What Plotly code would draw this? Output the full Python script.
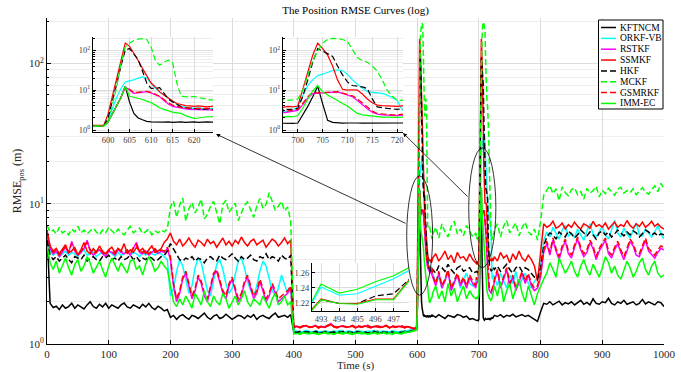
import plotly.graph_objects as go


def vals(s):
    return [float(v) for v in s.split()]


# ---------------- time grid (s) ----------------
TIME = (list(range(0, 600, 5)) + list(range(596, 625)) + list(range(625, 700, 5))
        + list(range(696, 725)) + list(range(725, 1001, 5)))

# ---------------- series values (RMSE_pos, m) ----------------
KFTNCM = vals("""
6.5 1.95 1.82 1.86 1.76 1.9 1.8 1.85 1.95 1.8
1.9 1.84 1.78 1.9 2.0 1.85 1.8 1.92 1.84 1.95
1.8 1.9 1.86 1.8 1.9 1.96 1.84 1.8 1.9 1.85
1.8 1.92 1.84 1.95 1.82 1.76 1.86 1.8 1.72 1.76
1.55 1.6 1.5 1.58 1.62 1.55 1.5 1.6 1.57 1.52
1.6 1.66 1.55 1.5 1.58 1.62 1.52 1.55 1.63 1.57
1.5 1.55 1.6 1.58 1.52 1.6 1.55 1.62 1.5 1.57
1.6 1.55 1.52 1.6 1.66 1.55 1.58 1.6 1.55 1.62
1.21 1.22 1.2 1.22 1.23 1.21 1.22 1.2 1.22 1.21
1.23 1.22 1.21 1.2 1.22 1.23 1.21 1.22 1.2 1.21
1.22 1.23 1.21 1.22 1.2 1.22 1.21 1.23 1.22 1.21
1.2 1.22 1.23 1.21 1.22 1.21 1.23 1.22 1.24 1.25
1.25 1.26 1.26 1.27 1.6 2.5 4.0 6.5 12.5 5.0 2.6 2.0 1.8 1.65 1.6 1.58 1.6 1.57 1.6 1.55 1.58 1.6 1.55 1.57 1.6 1.55 1.58 1.6 1.57
1.6 1.55 1.62 1.57 1.52 1.6 1.58 1.55 1.62 1.6 1.55 1.58 1.5 1.52 1.48
1.47 1.47 1.48 1.47 1.5 2.4 3.9 6.8 12.5 4.5 1.75 1.55 1.5 1.48 1.5 1.52 1.5 1.49 1.5 1.52 1.5 1.5 1.53 1.5 1.52 1.55 1.52 1.56 1.58
1.6 1.57 1.62 1.55 1.6 1.58 1.63 1.56 1.6 1.62 1.57 1.6 1.55 1.5 1.45
1.7 1.95 1.92 2.0 1.9 1.95 2.02 1.9 1.97 1.93
2.0 1.9 1.96 2.05 1.92 1.98 1.9 2.1 1.95 1.92
2.0 1.97 2.12 1.95 1.9 2.0 1.95 2.05 1.92 1.97
2.0 1.9 1.95 2.08 1.93 2.0 1.95 1.9 2.0 1.97
1.85
""")

ORKF_VB = vals("""
6.0 4.6 4.3 4.5 4.2 4.4 4.6 4.3 4.5 4.4
4.2 4.5 4.7 4.3 4.4 4.6 4.2 4.4 4.5 4.3
4.6 4.4 4.2 4.5 4.3 4.4 4.7 4.3 4.5 4.4
4.2 4.5 4.3 4.6 4.4 4.3 4.5 4.4 4.2 4.0
2.2 2.5 3.3 4.0 3.6 2.8 2.3 2.6 3.5 4.1
3.8 3.0 2.4 2.2 2.9 3.7 4.0 3.4 2.7 2.3
2.5 3.2 3.9 4.1 3.5 2.8 2.4 2.2 2.6 3.3
3.9 3.6 2.9 2.4 2.2 2.5 3.1 2.7 2.3 2.5
1.23 1.24 1.22 1.23 1.25 1.23 1.22 1.24 1.23 1.22
1.24 1.23 1.22 1.24 1.23 1.25 1.22 1.23 1.24 1.22
1.23 1.24 1.23 1.22 1.24 1.23 1.25 1.22 1.23 1.24
1.23 1.22 1.24 1.23 1.22 1.24 1.23 1.25 1.26 1.27
1.27 1.28 1.28 1.29 1.8 3.5 6.5 11 16 17 18 20 21.5 20 15 11 9 7.5 6.2 5.3 4.5 3.9 3.7 3.6 3.5 3.6 3.5 3.4 3.5
3.2 2.7 3.0 2.5 2.9 3.3 2.6 2.8 3.1 2.5 2.9 3.2 2.7 2.6 2.8
2.9 3.0 2.9 3.0 4.0 7.5 13 18 23 25 28 31 32 31 25 18 14 11 9.1 8.8 8.5 8.3 7.5 6.5 5.6 3.2 2.9 3.0 3.1
3.0 2.6 3.2 2.8 2.5 3.1 2.7 3.3 2.6 2.9 3.2 2.7 2.5 2.8 3.0
3.5 5.5 6.3 5.8 6.8 6.1 5.6 6.5 7.0 5.9
6.2 5.7 6.6 6.0 5.5 6.4 7.2 6.1 5.8 6.3
6.9 6.0 5.6 6.5 7.6 6.2 5.8 6.7 6.1 5.7
6.4 7.3 6.0 5.9 6.6 6.2 5.8 6.3 7.0 6.1
5.6
""")

RSTKF = vals("""
6.0 4.8 4.4 4.6 4.2 4.5 4.9 4.4 5.4 4.6
4.3 4.5 4.8 5.5 4.6 4.3 4.5 4.7 4.4 4.2
4.6 4.5 4.3 4.7 4.5 4.4 4.6 4.3 4.8 5.3
4.5 4.4 4.6 4.3 4.5 4.7 4.4 4.6 4.5 4.8
4.0 2.6 2.0 2.3 2.9 3.2 2.6 2.1 2.4 3.0
2.7 2.2 2.0 2.5 3.1 3.3 2.8 2.3 2.1 2.6
2.9 2.4 2.0 2.2 2.7 3.0 2.5 2.1 2.3 2.8
2.4 2.0 2.2 2.6 2.3 2.0 2.1 2.2 2.3 2.5
1.32 1.33 1.31 1.34 1.35 1.32 1.33 1.36 1.31 1.33
1.32 1.35 1.4 1.33 1.31 1.34 1.33 1.32 1.33 1.35
1.31 1.34 1.32 1.33 1.35 1.31 1.33 1.34 1.32 1.33
1.35 1.31 1.34 1.32 1.33 1.34 1.31 1.33 1.3 1.28
1.28 1.27 1.27 1.27 1.6 2.5 4.0 6.5 12 10 8.3 8.5 8.9 9.1 8.5 7.5 6.8 5.5 4.5 3.9 3.7 3.5 3.4 3.3 3.3 3.2 3.3 3.2 3.2
3.0 2.6 3.2 2.5 2.8 3.3 2.4 2.7 3.1 2.6 2.9 2.5 3.0 2.7 2.5
2.8 2.7 2.8 2.9 3.1 4.3 6.3 8.2 8.3 8.4 8.7 8.9 9.0 8.3 7.5 6.8 5.5 4.3 3.4 2.8 2.5 2.4 2.35 2.3 2.3 2.35 2.4 2.5 2.6
2.8 3.3 2.5 2.9 3.4 2.6 3.0 2.4 2.8 3.2 2.7 3.1 2.6 2.4 2.5
3.0 4.5 5.2 4.3 5.5 4.6 4.0 4.8 5.4 4.4
4.1 4.9 5.6 4.7 4.2 4.5 5.3 4.8 4.0 4.6
5.1 5.5 4.4 4.1 4.7 5.2 4.5 4.0 4.6 5.4
5.0 4.3 4.2 4.9 5.5 4.6 4.3 4.1 4.5 4.8
4.7
""")

SSMKF = vals("""
6.5 5.0 4.6 4.8 4.4 4.7 5.1 4.5 4.6 4.9
4.3 4.7 5.3 4.6 4.4 4.8 4.5 5.0 4.6 4.4
4.7 4.9 4.5 4.8 4.6 5.2 4.4 4.7 4.5 4.9
4.6 4.8 4.4 4.7 5.0 4.5 4.6 4.8 5.3 5.6
6.2 5.4 5.1 5.6 5.0 5.3 5.7 5.2 4.9 5.5
5.3 5.0 5.6 5.2 5.4 4.9 5.3 5.7 5.1 5.4
5.0 5.5 5.2 5.8 5.3 5.0 5.4 5.6 5.1 5.3
5.5 4.9 5.2 5.6 5.4 5.0 5.3 5.7 5.2 5.5
1.31 1.34 1.3 1.33 1.36 1.31 1.32 1.35 1.3 1.33
1.31 1.34 1.38 1.32 1.3 1.33 1.35 1.31 1.32 1.34
1.3 1.33 1.31 1.35 1.32 1.3 1.34 1.33 1.31 1.32
1.36 1.3 1.33 1.31 1.34 1.32 1.3 1.33 1.3 1.28
1.3 1.3 1.3 1.3 2.5 7 20 60 150 125 85 55 35 22 15 12 9 7.5 6.2 5.3 4.6 4.3 4.1 4.0 3.9 4.0 3.9 3.8 3.9
4.1 4.4 3.9 4.2 4.6 4.0 4.3 3.8 4.5 4.1 4.2 3.9 4.4 4.0 3.8
3.8 3.7 3.9 3.8 4.0 10 28 75 150 110 75 40 18 10.5 10 10.2 10 8 6 4.8 4.2 4.1 4.0 4.0 3.9 4.0 4.1 3.9 4.0
4.2 3.9 4.5 4.1 4.3 3.8 4.4 4.0 4.6 4.1 3.9 4.3 4.0 3.6 2.8
4.5 7.2 6.8 7.0 7.5 6.7 6.9 7.3 6.6 7.1
6.8 7.4 6.9 6.6 7.2 7.0 6.7 7.5 6.9 7.1
6.8 7.3 6.6 7.0 7.4 6.8 7.1 6.9 7.6 7.0
6.7 7.2 6.9 7.4 6.8 7.1 7.5 6.9 7.2 6.8
6.6
""")

HKF = vals("""
5.5 4.3 4.0 4.2 3.9 4.1 4.3 4.0 3.8 4.2
4.1 4.0 4.3 3.9 4.1 4.2 4.0 3.9 4.2 4.1
4.3 4.0 4.1 3.9 4.2 4.0 4.1 4.3 4.0 4.2
3.9 4.1 4.0 4.2 4.1 3.9 4.0 4.2 4.3 4.6
5.2 4.8 4.4 4.0 3.9 4.1 4.0 4.2 3.9 4.1
4.0 3.8 4.1 4.2 4.0 3.9 4.3 4.1 4.0 4.2
4.4 4.1 3.9 4.2 4.0 4.1 4.3 4.0 3.9 4.2
4.1 4.4 4.0 4.2 4.1 3.9 4.3 4.1 4.0 4.3
1.22 1.21 1.23 1.22 1.21 1.22 1.2 1.23 1.22 1.21
1.22 1.23 1.21 1.22 1.2 1.22 1.23 1.21 1.22 1.21
1.23 1.22 1.21 1.22 1.2 1.22 1.23 1.21 1.22 1.22
1.21 1.23 1.22 1.2 1.22 1.21 1.23 1.22 1.24 1.25
1.25 1.26 1.26 1.27 2.0 5.0 14 40 100 110 80 58 30 15 11 11 11.5 8 6 5 4.3 3.8 3.6 3.5 3.4 3.4 3.3 3.4 3.3
3.4 3.2 3.6 3.5 3.3 3.7 3.4 3.2 3.5 3.6 3.3 3.4 3.5 3.2 3.3
3.3 3.3 3.2 3.3 3.5 7 18 50 110 95 85 70 40 24 16 13 12.5 12 11 6 3.8 3.6 3.5 3.4 3.3 3.4 3.3 3.4 3.5
3.4 3.6 3.3 3.5 3.7 3.4 3.2 3.5 3.6 3.3 3.5 3.4 3.2 3.0 2.9
3.5 5.0 5.8 6.2 6.0 5.6 6.3 6.0 5.8 6.4
6.1 5.7 6.0 6.5 6.2 5.9 6.3 6.0 5.6 6.2
6.4 6.0 6.3 5.8 6.1 6.5 6.2 5.9 6.3 6.0
6.4 6.2 5.8 6.1 6.5 6.3 6.0 6.2 5.9 6.1
6.0
""")

MCKF = vals("""
7.0 6.3 6.5 6.1 6.8 6.2 6.4 6.0 6.6 6.3
6.9 6.2 6.5 6.1 6.4 6.7 6.3 6.0 6.5 6.2
6.8 6.4 6.1 6.6 6.3 6.0 6.5 6.9 6.2 6.4
6.7 6.1 6.3 6.6 6.0 6.4 6.2 6.5 6.3 6.6
9.5 10.5 8.0 9.8 11 7.5 9.2 10.2 8.6 9.5
10.8 7.8 8.4 9.6 10.4 8.8 7.2 9.9 10.6 8.7
9.4 10.1 7.6 8.5 9.7 10.3 9.1 8.0 9.6 10.9
9.3 9.9 12.0 10.2 9.0 9.6 10.4 8.9 9.5 7.5
1.19 1.2 1.18 1.21 1.2 1.19 1.22 1.2 1.18 1.2
1.21 1.19 1.2 1.18 1.2 1.22 1.19 1.2 1.21 1.18
1.2 1.19 1.21 1.2 1.18 1.2 1.22 1.19 1.2 1.21
1.19 1.2 1.18 1.21 1.2 1.19 1.22 1.2 1.23 1.25
1.25 1.26 1.26 1.27 1.5 4 12 45 120 150 175 190 195 185 120 55 42 50 56 50 15 7 6.8 6.7 6.9 6.5 6.2 5.9 5.6
6.0 6.8 5.7 7.2 6.3 5.8 6.9 7.5 6.1 6.6 5.9 7.0 6.4 5.8 6.2
5.6 5.8 5.5 5.7 6 10 25 55 95 150 185 198 195 185 165 100 65 55 50 40 30 18 10 7 5.6 5.5 5.8 6.2 6.0
6.5 7.2 5.8 6.9 7.6 6.2 6.7 7.3 5.9 6.8 7.4 6.3 6.0 6.6 5.5
7.5 11.5 12.5 13.5 11.8 12.8 10.5 13.2 12.0 11.4
12.6 13.0 11.6 12.2 10.8 12.9 11.9 12.4 13.3 11.2
12.5 11.8 12.9 12.2 11.5 12.7 13.1 11.9 12.4 12.0
12.8 11.6 12.3 13.0 12.1 11.7 12.6 13.4 12.2 14.0
12.8
""")

GSMRKF = vals("""
6.2 4.9 4.5 4.7 4.3 4.6 5.0 4.5 5.2 4.7
4.4 4.6 4.9 5.3 4.7 4.4 4.6 4.8 4.5 4.3
4.7 4.6 4.4 4.8 4.6 4.5 4.7 4.4 4.9 5.1
4.6 4.5 4.7 4.4 4.6 4.8 4.5 4.7 4.6 4.9
4.2 2.7 2.1 2.4 3.0 3.3 2.7 2.2 2.5 3.1
2.8 2.3 2.1 2.6 3.2 3.4 2.9 2.4 2.2 2.7
3.0 2.5 2.1 2.3 2.8 3.1 2.6 2.2 2.4 2.9
2.5 2.1 2.3 2.7 2.4 2.1 2.2 2.3 2.4 2.6
1.33 1.34 1.32 1.35 1.34 1.33 1.32 1.35 1.32 1.34
1.33 1.36 1.38 1.34 1.32 1.35 1.34 1.33 1.32 1.36
1.32 1.35 1.33 1.34 1.36 1.32 1.34 1.35 1.33 1.34
1.34 1.32 1.35 1.33 1.34 1.35 1.32 1.34 1.31 1.29
1.29 1.28 1.28 1.28 1.6 2.5 4.0 6.5 12 10.5 8.6 8.9 9.2 9.3 8.8 8.0 7.0 5.8 4.8 4.2 3.9 3.7 3.6 3.5 3.5 3.5 3.5 3.4 3.5
3.1 2.7 3.3 2.6 2.9 3.4 2.5 2.8 3.2 2.7 3.0 2.6 3.1 2.8 2.6
3.0 2.9 3.0 3.1 3.3 4.7 6.8 8.8 8.5 8.6 8.9 9.0 9.1 8.5 7.8 7.2 6.0 4.8 3.8 3.0 2.6 2.5 2.45 2.4 2.4 2.45 2.5 2.6 2.7
2.9 3.4 2.6 3.0 3.5 2.7 3.1 2.5 2.9 3.3 2.8 3.2 2.7 2.5 2.6
3.2 4.7 5.4 4.5 5.7 4.8 4.2 5.0 5.6 4.6
4.3 5.1 5.8 4.9 4.4 4.7 5.5 5.0 4.2 4.8
5.3 5.7 4.6 4.3 4.9 5.4 4.7 4.2 4.8 5.6
5.2 4.5 4.4 5.1 5.7 4.8 4.5 4.3 4.7 5.0
4.9
""")

IMM_EC = vals("""
5.0 3.8 3.4 3.9 3.2 3.6 4.1 3.5 3.1 3.7
4.0 3.3 3.6 4.2 3.8 3.2 3.5 3.9 3.4 3.0
3.6 4.1 3.7 3.3 3.8 3.5 3.2 3.9 4.0 3.4
3.6 3.1 3.7 4.2 3.8 3.3 3.5 3.9 3.6 3.4
2.6 2.0 1.85 2.1 1.9 2.2 2.0 1.8 2.3 2.1
1.9 2.4 2.0 1.85 2.2 2.0 1.9 2.3 2.1 1.8
2.0 2.2 1.9 2.1 2.4 2.0 1.85 2.1 2.0 1.9
2.2 2.0 1.8 2.1 2.3 1.9 2.0 2.2 1.9 2.0
1.18 1.19 1.17 1.2 1.19 1.18 1.2 1.19 1.17 1.19
1.2 1.18 1.19 1.17 1.2 1.19 1.18 1.2 1.19 1.17
1.19 1.2 1.18 1.19 1.17 1.19 1.2 1.18 1.19 1.2
1.18 1.19 1.17 1.2 1.19 1.18 1.2 1.21 1.22 1.24
1.24 1.25 1.25 1.26 1.6 2.5 4.0 6.5 12.5 7.0 6.6 6.3 5.8 5.3 4.9 4.2 3.6 3.3 3.0 2.8 2.7 2.6 2.3 2.1 1.96 2.0 2.1 2.15 2.15
2.3 2.6 2.1 2.4 2.0 2.7 2.2 2.5 2.0 2.3 2.6 2.1 2.4 2.2 2.1
2.15 2.1 2.2 2.15 2.3 3.5 6.0 9.5 13 9 7.5 6.5 5.5 4.6 4.0 3.2 2.6 2.4 2.3 2.2 2.15 2.1 2.1 2.05 2.07 2.1 2.2 2.3 2.5
2.6 2.2 2.8 2.0 2.4 2.7 2.1 2.5 2.9 2.3 2.0 2.6 2.2 1.9 2.3
2.6 2.9 3.2 3.8 3.4 3.0 4.1 3.6 3.2 3.5
3.9 3.3 3.0 3.6 4.0 3.4 3.1 3.7 3.3 3.0
3.5 4.2 3.8 3.2 3.6 3.1 2.9 3.4 3.9 3.5
3.0 3.3 3.8 4.1 3.4 3.1 3.6 3.9 3.2 3.0
3.1
""")

SERIES_NAMES = ["KFTNCM", "ORKF-VB", "RSTKF", "SSMKF", "HKF", "MCKF", "GSMRKF", "IMM-EC"]
SERIES_VALUES = [KFTNCM, ORKF_VB, RSTKF, SSMKF, HKF, MCKF, GSMRKF, IMM_EC]
COLORS = ["#000000", "#00ffff", "#ff00ff", "#ff0000", "#000000", "#00ff00", "#ff0000", "#00ff00"]
DASHES = ["solid", "solid", "solid", "solid", "dash", "dash", "dash", "solid"]

for _n, _v in zip(SERIES_NAMES, SERIES_VALUES):
    if len(_v) != len(TIME):
        raise ValueError(f"{_n}: {len(_v)} values vs {len(TIME)} times")

# inset 3 (zoom of 492.5-497.8 s)
ZOOM3_TIME = [492.5, 493, 494, 495, 496, 497, 497.85]
ZOOM3_LINES = {
    "green_top": [1.222, 1.245, 1.233, 1.238, 1.248, 1.256, 1.267],
    "cyan": [1.220, 1.241, 1.230, 1.232, 1.242, 1.252, 1.263],
    "black_dash": [1.211, 1.224, 1.219, 1.219, 1.229, 1.232, 1.251],
    "red": [1.211, 1.225, 1.219, 1.219, 1.225, 1.225, 1.250],
    "green_low": [1.210, 1.224, 1.219, 1.218, 1.224, 1.224, 1.249],
}
ZOOM3_STYLE = {
    "green_top": ("#00ff00", "solid"),
    "cyan": ("#00ffff", "solid"),
    "black_dash": ("#000000", "dash"),
    "red": ("#ff0000", "solid"),
    "green_low": ("#00ff00", "solid"),
}

# ---------------- geometry helpers (figure pixels -> plot-area paper) ----------------
W, H = 681, 372
ML, MR, MT, MB = 47, 17, 18, 28
PW, PH = W - ML - MR, H - MT - MB


def px(x):
    return (x - ML) / PW


def py(y):
    return (H - MB - y) / PH


FONT = "Liberation Serif, Times New Roman, serif"
DASHPAT = {"solid": "solid", "dash": "6px,3px"}

fig = go.Figure()

# main + two spike insets share the same series
for axes, width in (("", 1.5), ("2", 1.2), ("3", 1.2)):
    for name, v, c, d in zip(SERIES_NAMES, SERIES_VALUES, COLORS, DASHES):
        fig.add_trace(go.Scatter(
            x=TIME, y=v, mode="lines", name=name, showlegend=False,
            line=dict(color=c, width=width, dash=DASHPAT[d]),
            xaxis="x" + axes, yaxis="y" + axes, hoverinfo="skip"))

for key, yv in ZOOM3_LINES.items():
    c, d = ZOOM3_STYLE[key]
    fig.add_trace(go.Scatter(
        x=ZOOM3_TIME, y=yv, mode="lines", showlegend=False,
        line=dict(color=c, width=1.2, dash=DASHPAT[d]),
        xaxis="x4", yaxis="y4", hoverinfo="skip"))

GRID = "#dcdcdc"
MINORGRID = "#eeeeee"
TICKC = "#262626"
minor_log = [m * 10 ** e for e in range(0, 3) for m in range(2, 10) if m * 10 ** e < 250]

common_x = dict(showline=True, linecolor="black", linewidth=1, ticks="inside",
                tickcolor="black", showgrid=True, gridcolor=GRID,
                zeroline=False, mirror=False, automargin=False)

layout = dict(
    width=W, height=H,
    margin=dict(l=ML, r=MR, t=MT, b=MB, autoexpand=False),
    paper_bgcolor="white", plot_bgcolor="white",
    showlegend=False,
    font=dict(family=FONT, size=11, color=TICKC),
    title=dict(text="The Position RMSE Curves (log)", x=0.5, xref="paper",
               y=1 - 10 / H, yref="container", yanchor="middle", xanchor="center",
               font=dict(family=FONT, size=11, color="black")),
    xaxis=dict(domain=[0, 1], range=[0, 1000], tickvals=list(range(0, 1001, 100)),
               title=dict(text="Time (s)", standoff=1, font=dict(size=11, color=TICKC)),
               tickfont=dict(size=11, color=TICKC), anchor="y", ticklen=4, **common_x),
    yaxis=dict(domain=[0, 1], type="log", range=[0, 2.325],
               tickvals=[1, 10, 100],
               ticktext=["10<sup>0</sup>", "10<sup>1</sup>", "10<sup>2</sup>"],
               title=dict(text="RMSE<sub>pos</sub> (m)", standoff=4, font=dict(size=12, color=TICKC)),
               tickfont=dict(size=11, color=TICKC), anchor="x", ticklen=4,
               minor=dict(tickmode="array", tickvals=minor_log, ticks="inside", ticklen=2,
                          tickcolor="black", showgrid=True, gridcolor=MINORGRID),
               **common_x),
)

inset_font = dict(size=8.5, color="#404040")
log_inset_y = dict(type="log", range=[-0.05, 2.33], tickvals=[1, 10, 100],
                   ticktext=["10<sup>0</sup>", "10<sup>1</sup>", "10<sup>2</sup>"],
                   tickfont=inset_font, ticklen=3,
                   minor=dict(tickmode="array", tickvals=minor_log, ticks="inside", ticklen=2,
                              tickcolor="black", showgrid=True, gridcolor=MINORGRID),
                   **common_x)

layout["xaxis2"] = dict(domain=[px(93), px(213)], range=[596.5, 624.4], dtick=5, tick0=0,
                        tickfont=inset_font, anchor="y2", ticklen=3, **common_x)
layout["yaxis2"] = dict(domain=[py(132), py(37)], anchor="x2", **log_inset_y)
layout["xaxis3"] = dict(domain=[px(283), px(403)], range=[697, 721.2], dtick=5, tick0=0,
                        tickfont=inset_font, anchor="y3", ticklen=3, **common_x)
layout["yaxis3"] = dict(domain=[py(132), py(37)], anchor="x3", **log_inset_y)
layout["xaxis4"] = dict(domain=[px(312), px(409)], range=[492.5, 497.85], dtick=1, tick0=0,
                        tickfont=inset_font, anchor="y4", ticklen=3, **common_x)
layout["yaxis4"] = dict(domain=[py(311), py(263)], range=[1.209, 1.273], dtick=0.02, tick0=0,
                        tickformat=".2f", tickfont=inset_font, anchor="x4", ticklen=3,
                        **common_x)

fig.update_layout(**layout)

# ellipses around the two spikes (data coords: time, RMSE)
ELLIPSES = [(583, 625, 2.23, 15.8), (683.5, 727.5, 3.5, 25.0)]
shapes = []
for x0, x1, y0, y1 in ELLIPSES:
    shapes.append(dict(type="circle", xref="x", yref="y", x0=x0, x1=x1, y0=y0, y1=y1,
                       line=dict(color="black", width=0.8)))

# custom legend
LEG_BOX = (598.5, 20, 663, 109)
shapes.append(dict(type="rect", xref="paper", yref="paper",
                   x0=px(LEG_BOX[0]), x1=px(LEG_BOX[2]), y0=py(LEG_BOX[3]), y1=py(LEG_BOX[1]),
                   line=dict(color="black", width=1), fillcolor="white", layer="above"))
annotations = []
for i, (name, c, d) in enumerate(zip(SERIES_NAMES, COLORS, DASHES)):
    yc = 27.5 + i * 10.85
    shapes.append(dict(type="line", xref="paper", yref="paper",
                       x0=px(601), x1=px(616), y0=py(yc), y1=py(yc),
                       line=dict(color=c, width=1.5, dash=DASHPAT[d]), layer="above"))
    annotations.append(dict(text=name, xref="paper", yref="paper", x=px(617.5), y=py(yc),
                            xanchor="left", yanchor="middle", showarrow=False,
                            font=dict(family=FONT, size=9.5, color="black")))

# arrows from ellipses to insets
ARROWS = [((403, 133), (469, 198)), ((216, 134), (407, 224))]
for (hx, hy), (tx, ty) in ARROWS:
    annotations.append(dict(text="", xref="paper", yref="paper", x=px(hx), y=py(hy),
                            ax=tx - hx, ay=ty - hy, axref="pixel", ayref="pixel",
                            showarrow=True, arrowhead=2, arrowsize=1, arrowwidth=0.8,
                            arrowcolor="black"))

fig.update_layout(shapes=shapes, annotations=annotations)
fig.write_html("out.html")
